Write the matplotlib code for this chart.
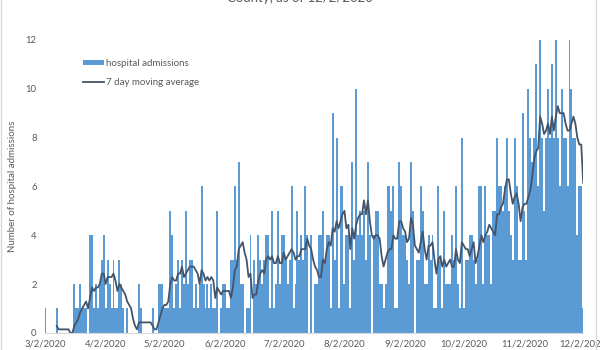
import matplotlib
matplotlib.use("Agg")
import matplotlib.pyplot as plt
from matplotlib.lines import Line2D
import pandas as pd

plt.rcParams['font.family'] = ['Lato', 'DejaVu Sans']

# daily hospital admissions, 3/2/2020 .. 12/2/2020
mar = [1, 0, 0, 0, 0, 0, 1, 0, 0, 0, 0, 0, 0, 0, 0, 2, 1, 1, 2, 1,
       1, 1, 0, 4, 4, 1, 2, 1, 2, 3, 4]
apr = [1, 3, 2, 1, 3, 1, 1, 3, 2, 1, 0, 1, 0, 0, 0, 0, 0, 2, 1, 0,
       0, 0, 0, 0, 1, 0, 0, 2, 2, 2]
may = [1, 1, 1, 5, 4, 1, 2, 3, 1, 3, 2, 5, 2, 3, 3, 1, 2, 1, 2, 6,
       2, 1, 2, 1, 2, 1, 1, 5, 0, 1, 2]
jun = [2, 1, 1, 3, 3, 6, 3, 7, 2, 2, 0, 1, 1, 4, 0, 3, 2, 4, 3, 2,
       3, 4, 4, 1, 5, 1, 2, 5, 2, 4]
jul = [4, 3, 2, 3, 6, 1, 2, 5, 3, 4, 3, 6, 4, 0, 4, 0, 2, 2, 4, 4,
       5, 3, 4, 4, 1, 9, 3, 8, 1, 6, 6]
aug = [2, 4, 4, 1, 7, 3, 10, 4, 5, 4, 5, 3, 7, 4, 0, 4, 5, 5, 2, 2,
       1, 2, 6, 6, 5, 6, 1, 1, 7, 6, 4]
sep = [4, 3, 2, 7, 5, 0, 3, 3, 6, 5, 2, 2, 4, 3, 4, 1, 1, 6, 3, 1,
       5, 2, 2, 2, 4, 3, 6, 2, 1, 8]
oct_ = [1, 3, 3, 4, 4, 3, 2, 3, 6, 6, 2, 6, 4, 4, 2, 5, 5, 8, 6, 6,
        5, 6, 8, 5, 4, 3, 8, 6, 3, 3, 9]
nov = [5, 3, 10, 8, 7, 8, 11, 6, 12, 8, 5, 8, 10, 8, 11, 8, 12, 8, 6, 10,
       8, 8, 6, 12, 10, 8, 8, 4, 6, 6]
dec = [1]

admissions = mar + apr + may + jun + jul + aug + sep + oct_ + nov + dec
dates = pd.date_range('2020-03-02', periods=len(admissions), freq='D')
s = pd.Series(admissions, index=dates)
ma7 = s.rolling(7).mean()

tick_dates = pd.date_range('2020-03-01', '2020-12-01', freq='MS') + pd.Timedelta(days=1)
tick_labels = [f"{d.month}/{d.day}/{d.year}" for d in tick_dates]

bar_color = '#5B9BD5'
line_color = '#44546A'
text_color = '#595959'

fig = plt.figure(figsize=(6, 3.5), dpi=100)
ax = fig.add_axes([0.075, 0.049, 0.897, 0.837])

bars = ax.bar(s.index, s.values, width=1.0, color=bar_color, linewidth=0,
              label='hospital admissions')
line, = ax.plot(ma7.index, ma7.values, color=line_color, linewidth=1.3,
                label='7 day moving average')

ax.set_xlim(dates[0], tick_dates[-1])
ax.set_ylim(0, 12)
ax.set_yticks(range(0, 13, 2))
ax.set_xticks(tick_dates)
ax.set_xticklabels(tick_labels)
ax.tick_params(axis='both', length=0, labelsize=6.8, colors=text_color)
ax.tick_params(axis='x', pad=5)
ax.tick_params(axis='y', pad=6)
ax.set_ylabel('Number of hospital admissions', fontsize=7, color=text_color, labelpad=6)

for side in ['top', 'right', 'left']:
    ax.spines[side].set_visible(False)
ax.spines['bottom'].set_color('#D9D9D9')

leg = ax.legend([bars, line], ['hospital admissions', '7 day moving average'],
                loc='upper left', bbox_to_anchor=(0.055, 0.965), frameon=False,
                fontsize=7, handlelength=2.1, handleheight=0.45,
                handletextpad=0.25, labelspacing=1.0)
for t in leg.get_texts():
    t.set_color(text_color)

# title line, cut off at the top edge of the picture
fig.text(0.5, 0.993, 'County, as of 12/2/2020', ha='center', va='baseline',
         fontsize=9.5, color=text_color)

# chart border
fig.add_artist(Line2D([0.001, 0.001], [0, 1], transform=fig.transFigure,
                      color='#D9D9D9', linewidth=1))
fig.add_artist(Line2D([0.994, 0.994], [0, 1], transform=fig.transFigure,
                      color='#D9D9D9', linewidth=1))

fig.savefig('out.png', dpi=100)
